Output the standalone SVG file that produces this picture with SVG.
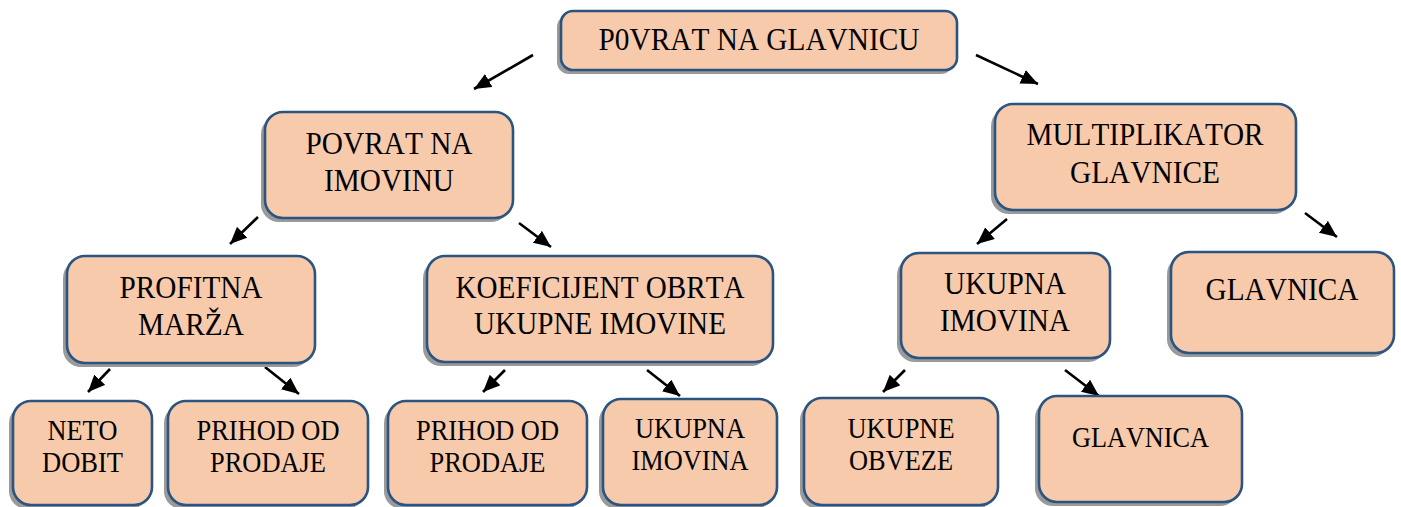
<svg xmlns="http://www.w3.org/2000/svg" width="1401" height="507" viewBox="0 0 1401 507">
<defs>
<style>
.box{fill:#F7CAAC;stroke:#2B5580;stroke-width:2.6}
.sh{fill:#9a9a9a}
.t{font-family:"Liberation Serif","Times New Roman",serif;fill:#000;text-anchor:middle;font-kerning:none}
.l{font-size:31.5px}
.s{font-size:29px}
.c{stroke:#000;stroke-width:2.6;fill:none;marker-end:url(#ah)}
</style>
<marker id="ah" markerUnits="userSpaceOnUse" markerWidth="19" markerHeight="16" refX="17" refY="7.5" orient="auto">
<path d="M0,0 L17,7.5 L0,15 z" fill="#000"/>
</marker>
</defs>
<rect width="1401" height="507" fill="#fff"/>
<g id="connectors">
<line class="c" x1="533" y1="55" x2="474" y2="89"/>
<line class="c" x1="976" y1="55" x2="1038" y2="84"/>
<line class="c" x1="258" y1="217" x2="230" y2="244"/>
<line class="c" x1="519" y1="223" x2="551" y2="247"/>
<line class="c" x1="1007" y1="219" x2="977" y2="244"/>
<line class="c" x1="1305" y1="213" x2="1337" y2="237"/>
<line class="c" x1="110" y1="369" x2="88" y2="392"/>
<line class="c" x1="265" y1="367" x2="299" y2="394"/>
<line class="c" x1="505" y1="370" x2="483" y2="392"/>
<line class="c" x1="647" y1="370" x2="680" y2="396"/>
<line class="c" x1="905" y1="370" x2="883" y2="392"/>
<line class="c" x1="1065" y1="370" x2="1099" y2="396"/>
</g>
<g id="n-top">
<rect class="sh" x="557" y="15" width="396" height="59" rx="12"/>
<rect class="box" x="561" y="11" width="396" height="59" rx="12"/>
<text class="t l" x="759" y="50" textLength="321" lengthAdjust="spacingAndGlyphs">P0VRAT NA GLAVNICU</text>
</g>
<g id="n-povrat-imovina">
<rect class="sh" x="261" y="116" width="248" height="106" rx="18"/>
<rect class="box" x="265" y="112" width="248" height="106" rx="18"/>
<text class="t l" x="389" y="154" textLength="167" lengthAdjust="spacingAndGlyphs">POVRAT NA</text>
<text class="t l" x="389" y="191" textLength="130" lengthAdjust="spacingAndGlyphs">IMOVINU</text>
</g>
<g id="n-multiplikator">
<rect class="sh" x="991" y="108" width="301" height="106" rx="18"/>
<rect class="box" x="995" y="104" width="301" height="106" rx="18"/>
<text class="t l" x="1145" y="145" textLength="237" lengthAdjust="spacingAndGlyphs">MULTIPLIKATOR</text>
<text class="t l" x="1145" y="183" textLength="150" lengthAdjust="spacingAndGlyphs">GLAVNICE</text>
</g>
<g id="n-profitna">
<rect class="sh" x="63" y="260" width="248" height="107" rx="18"/>
<rect class="box" x="67" y="256" width="248" height="107" rx="18"/>
<text class="t l" x="191" y="298" textLength="143" lengthAdjust="spacingAndGlyphs">PROFITNA</text>
<text class="t l" x="191" y="335" textLength="106" lengthAdjust="spacingAndGlyphs">MARŽA</text>
</g>
<g id="n-koeficijent">
<rect class="sh" x="423" y="260" width="346" height="106" rx="18"/>
<rect class="box" x="427" y="256" width="346" height="106" rx="18"/>
<text class="t l" x="600" y="298" textLength="289" lengthAdjust="spacingAndGlyphs">KOEFICIJENT OBRTA</text>
<text class="t l" x="600" y="334" textLength="252" lengthAdjust="spacingAndGlyphs">UKUPNE IMOVINE</text>
</g>
<g id="n-ukupna-imovina">
<rect class="sh" x="897" y="257" width="209" height="105" rx="18"/>
<rect class="box" x="901" y="253" width="209" height="105" rx="18"/>
<text class="t l" x="1005" y="294" textLength="122" lengthAdjust="spacingAndGlyphs">UKUPNA</text>
<text class="t l" x="1005" y="331" textLength="130" lengthAdjust="spacingAndGlyphs">IMOVINA</text>
</g>
<g id="n-glavnica-1">
<rect class="sh" x="1167" y="256" width="223" height="101" rx="18"/>
<rect class="box" x="1171" y="252" width="223" height="101" rx="18"/>
<text class="t l" x="1282" y="300" textLength="153" lengthAdjust="spacingAndGlyphs">GLAVNICA</text>
</g>
<g id="n-neto">
<rect class="sh" x="9" y="405" width="139" height="104" rx="18"/>
<rect class="box" x="13" y="401" width="139" height="104" rx="18"/>
<text class="t s" x="82.5" y="440" textLength="70" lengthAdjust="spacingAndGlyphs">NETO</text>
<text class="t s" x="82.5" y="472" textLength="81" lengthAdjust="spacingAndGlyphs">DOBIT</text>
</g>
<g id="n-prihod-1">
<rect class="sh" x="164" y="405" width="200" height="104" rx="18"/>
<rect class="box" x="168" y="401" width="200" height="104" rx="18"/>
<text class="t s" x="268" y="440" textLength="143" lengthAdjust="spacingAndGlyphs">PRIHOD OD</text>
<text class="t s" x="268" y="472" textLength="116" lengthAdjust="spacingAndGlyphs">PRODAJE</text>
</g>
<g id="n-prihod-2">
<rect class="sh" x="384" y="405" width="199" height="104" rx="18"/>
<rect class="box" x="388" y="401" width="199" height="104" rx="18"/>
<text class="t s" x="487.5" y="440" textLength="143" lengthAdjust="spacingAndGlyphs">PRIHOD OD</text>
<text class="t s" x="487.5" y="472" textLength="116" lengthAdjust="spacingAndGlyphs">PRODAJE</text>
</g>
<g id="n-ukupna-2">
<rect class="sh" x="599" y="403" width="174" height="106" rx="18"/>
<rect class="box" x="603" y="399" width="174" height="106" rx="18"/>
<text class="t s" x="690" y="438" textLength="110" lengthAdjust="spacingAndGlyphs">UKUPNA</text>
<text class="t s" x="690" y="470" textLength="117" lengthAdjust="spacingAndGlyphs">IMOVINA</text>
</g>
<g id="n-obveze">
<rect class="sh" x="800" y="402" width="194" height="107" rx="18"/>
<rect class="box" x="804" y="398" width="194" height="107" rx="18"/>
<text class="t s" x="901" y="438" textLength="107" lengthAdjust="spacingAndGlyphs">UKUPNE</text>
<text class="t s" x="901" y="470" textLength="104" lengthAdjust="spacingAndGlyphs">OBVEZE</text>
</g>
<g id="n-glavnica-2">
<rect class="sh" x="1035" y="400" width="203" height="106" rx="18"/>
<rect class="box" x="1039" y="396" width="203" height="106" rx="18"/>
<text class="t s" x="1140.5" y="447" textLength="137" lengthAdjust="spacingAndGlyphs">GLAVNICA</text>
</g>
</svg>
